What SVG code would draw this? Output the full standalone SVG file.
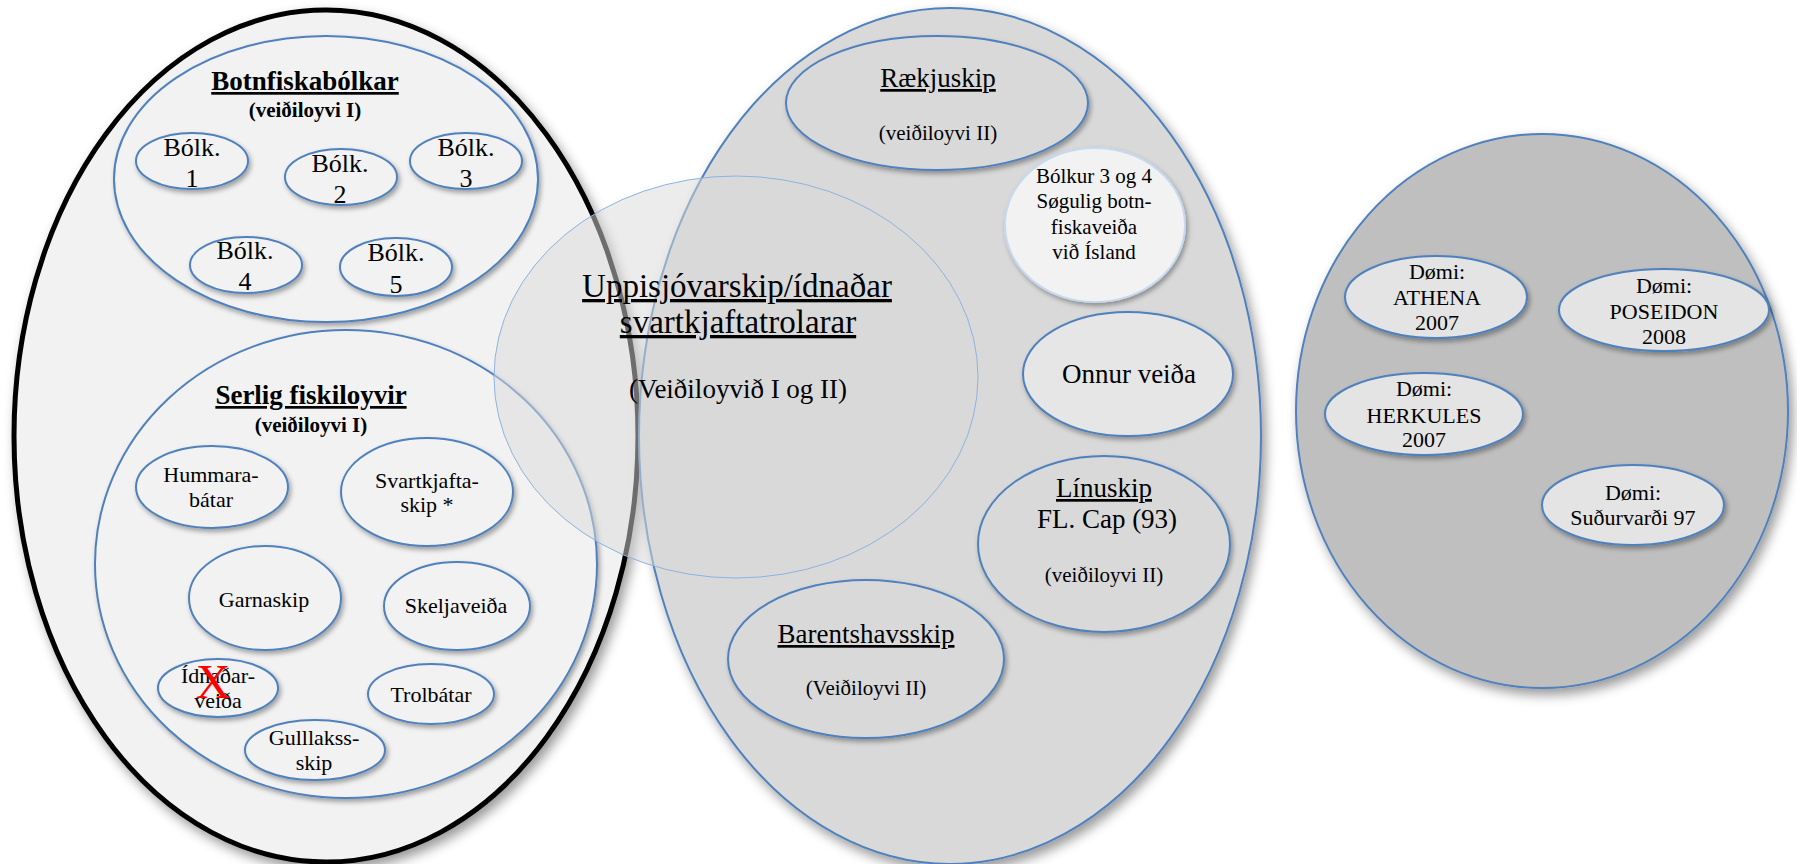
<svg xmlns="http://www.w3.org/2000/svg" width="1797" height="864" viewBox="0 0 1797 864">
<defs>
<filter id="shBig" x="-10%" y="-10%" width="125%" height="125%">
<feDropShadow dx="4" dy="6" stdDeviation="6" flood-color="#000" flood-opacity="0.4"/>
</filter>
<filter id="sh" x="-20%" y="-20%" width="145%" height="150%">
<feDropShadow dx="2" dy="3" stdDeviation="2.5" flood-color="#000" flood-opacity="0.35"/>
</filter>
</defs>
<style>
text{font-family:"Liberation Serif","Times New Roman",serif;fill:#000;text-anchor:middle}
.b{stroke:#4f81bd;stroke-width:2}
.t26{font-size:26px}
.t22{font-size:22px}
.t21{font-size:21px}
.t27{font-size:27px}
.bold{font-weight:bold}
.u{text-decoration:underline}
.l{fill:#f2f2f2}
.m{fill:#d9d9d9}
.r{fill:#bfbfbf}
.ri{fill:#e4e4e4}
</style>

<g id="left-group">
<ellipse cx="326" cy="436" rx="312" ry="426" fill="#f2f2f2" stroke="#000" stroke-width="5" filter="url(#shBig)"/>
</g>

<g id="botnfisk">
<ellipse class="b l" cx="326" cy="179" rx="212" ry="143" filter="url(#sh)"/>
<text class="t27 bold u" x="305" y="90">Botnfiskabólkar</text>
<text class="t21 bold" x="305" y="117">(veiðiloyvi I)</text>
</g>
<g id="bolk1"><ellipse class="b l" cx="192" cy="161" rx="56" ry="28" filter="url(#sh)"/><text class="t26" x="192" y="156">Bólk.</text><text class="t26" x="192" y="187">1</text></g>
<g id="bolk2"><ellipse class="b l" cx="341" cy="177" rx="56" ry="28" filter="url(#sh)"/><text class="t26" x="340" y="172">Bólk.</text><text class="t26" x="340" y="203">2</text></g>
<g id="bolk3"><ellipse class="b l" cx="466" cy="161" rx="56" ry="28" filter="url(#sh)"/><text class="t26" x="466" y="156">Bólk.</text><text class="t26" x="466" y="187">3</text></g>
<g id="bolk4"><ellipse class="b l" cx="246" cy="265" rx="56" ry="28" filter="url(#sh)"/><text class="t26" x="245" y="259">Bólk.</text><text class="t26" x="245" y="290">4</text></g>
<g id="bolk5"><ellipse class="b l" cx="396" cy="267" rx="56" ry="29" filter="url(#sh)"/><text class="t26" x="396" y="261">Bólk.</text><text class="t26" x="396" y="293">5</text></g>

<g id="serlig">
<ellipse class="b l" cx="346" cy="564" rx="251" ry="234" filter="url(#sh)"/>
<text class="t27 bold u" x="311" y="404">Serlig fiskiloyvir</text>
<text class="t21 bold" x="311" y="432">(veiðiloyvi I)</text>
</g>
<g id="hummara"><ellipse class="b l" cx="212" cy="487" rx="76" ry="41" filter="url(#sh)"/><text class="t22" x="211" y="482">Hummara-</text><text class="t22" x="211" y="507">bátar</text></g>
<g id="svartkjafta"><ellipse class="b l" cx="427" cy="492" rx="86" ry="54" filter="url(#sh)"/><text class="t22" x="427" y="488">Svartkjafta-</text><text class="t22" x="427" y="512">skip *</text></g>
<g id="garnaskip"><ellipse class="b l" cx="265" cy="598" rx="76" ry="52" filter="url(#sh)"/><text class="t22" x="264" y="607">Garnaskip</text></g>
<g id="skeljaveida"><ellipse class="b l" cx="457" cy="606" rx="73" ry="44" filter="url(#sh)"/><text class="t22" x="456" y="613">Skeljaveiða</text></g>
<g id="idnadarveida"><ellipse class="b l" cx="218" cy="688" rx="60" ry="29" filter="url(#sh)"/><text class="t22" x="218" y="683">Ídnaðar-</text><text class="t22" x="218" y="708">veiða</text><text x="213" y="698" style="font-size:48px;fill:#ff0000">X</text></g>
<g id="trolbatar"><ellipse class="b l" cx="431" cy="694" rx="63" ry="30" filter="url(#sh)"/><text class="t22" x="431" y="702">Trolbátar</text></g>
<g id="gulllaksskip"><ellipse class="b l" cx="315" cy="750" rx="70" ry="30" filter="url(#sh)"/><text class="t22" x="314" y="745">Gulllakss-</text><text class="t22" x="314" y="770">skip</text></g>

<g id="middle-group">
<ellipse class="b m" cx="950" cy="436" rx="311" ry="428" filter="url(#shBig)"/>
</g>
<g id="raekjuskip"><ellipse class="b m" cx="937" cy="103" rx="151" ry="67" filter="url(#sh)"/><text class="t27 u" x="938" y="87">Rækjuskip</text><text class="t21" x="938" y="140">(veiðiloyvi II)</text></g>
<g id="bolkur34"><ellipse cx="1095" cy="225" rx="90" ry="77" fill="#f2f2f2" stroke="#c6d9f1" stroke-width="2" filter="url(#sh)"/>
<text class="t21" x="1094" y="183">Bólkur 3 og 4</text><text class="t21" x="1094" y="208">Søgulig botn-</text><text class="t21" x="1094" y="234">fiskaveiða</text><text class="t21" x="1094" y="259">við Ísland</text></g>
<g id="onnur"><ellipse class="b" cx="1128" cy="374" rx="105" ry="62" fill="#e6e6e6" filter="url(#sh)"/><text class="t27" x="1129" y="383">Onnur veiða</text></g>
<g id="linuskip"><ellipse class="b m" cx="1104" cy="544" rx="126" ry="88" filter="url(#sh)"/><text class="t27 u" x="1104" y="497">Línuskip</text><text class="t27" x="1107" y="528">FL. Cap (93)</text><text class="t21" x="1104" y="582">(veiðiloyvi II)</text></g>
<g id="barents"><ellipse class="b m" cx="866" cy="659" rx="138" ry="79" filter="url(#sh)"/><text class="t27 u" x="866" y="643">Barentshavsskip</text><text class="t21" x="866" y="695">(Veiðiloyvi II)</text></g>

<g id="uppisjovarskip">
<ellipse cx="736" cy="377" rx="242" ry="201" fill="#d9d9d9" fill-opacity="0.5" stroke="#8db3e2" stroke-width="1"/>
<text x="737" y="297" class="u" style="font-size:33px">Uppisjóvarskip/ídnaðar</text>
<text x="738" y="333" class="u" style="font-size:33px">svartkjaftatrolarar</text>
<text x="738" y="398" class="t27">(Veiðiloyvið I og II)</text>
</g>

<g id="right-group">
<ellipse class="b r" cx="1542" cy="411" rx="246" ry="277" filter="url(#shBig)"/>
</g>
<g id="athena"><ellipse class="b ri" cx="1436" cy="297" rx="91" ry="41" filter="url(#sh)"/><text class="t22" x="1437" y="279">Dømi:</text><text class="t22" x="1437" y="305">ATHENA</text><text class="t22" x="1437" y="330">2007</text></g>
<g id="poseidon"><ellipse class="b ri" cx="1664" cy="310" rx="105" ry="41" filter="url(#sh)"/><text class="t22" x="1664" y="293">Dømi:</text><text class="t22" x="1664" y="319">POSEIDON</text><text class="t22" x="1664" y="344">2008</text></g>
<g id="herkules"><ellipse class="b ri" cx="1424" cy="414" rx="99" ry="41" filter="url(#sh)"/><text class="t22" x="1424" y="396">Dømi:</text><text class="t22" x="1424" y="423">HERKULES</text><text class="t22" x="1424" y="447">2007</text></g>
<g id="sudurvardi"><ellipse class="b ri" cx="1633" cy="505" rx="91" ry="40" filter="url(#sh)"/><text class="t22" x="1633" y="500">Dømi:</text><text class="t22" x="1633" y="525">Suðurvarði 97</text></g>

<g id="connectors"></g>
</svg>
